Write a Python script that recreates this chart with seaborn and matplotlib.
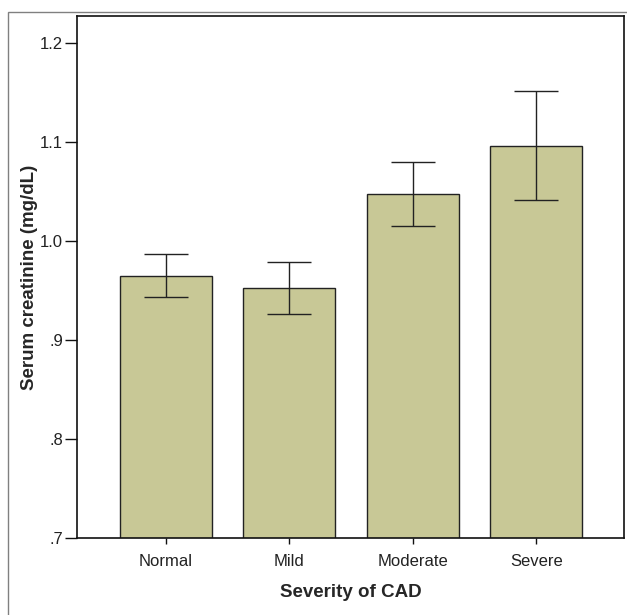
import matplotlib
matplotlib.use("Agg")
import matplotlib.pyplot as plt
import seaborn as sns
import pandas as pd
import numpy as np
from matplotlib.patches import Rectangle

# values (means with 95% CI bounds)
severity = ["Normal", "Mild", "Moderate", "Severe"]
mean_creat = [0.965, 0.953, 1.047, 1.096]
ci_low = [0.943, 0.926, 1.015, 1.041]
ci_high = [0.987, 0.979, 1.080, 1.152]
ytick_vals = [0.7, 0.8, 0.9, 1.0, 1.1, 1.2]
ytick_labels = [".7", ".8", ".9", "1.0", "1.1", "1.2"]

df = pd.DataFrame({"severity": severity, "creat": mean_creat})

sns.set_style("white")
plt.rcParams["font.family"] = ["Liberation Sans", "DejaVu Sans"]

fig = plt.figure(figsize=(6.27, 6.15), dpi=100)
ax = fig.add_axes([0.1228, 0.1252, 0.8724, 0.8488])

# outer chart frame (SPSS style)
fig.patches.append(Rectangle((8 / 627, -0.1), 1.2, 1 - 12 / 615 + 0.1,
                             transform=fig.transFigure, fill=False,
                             edgecolor="#808080", linewidth=1.0))

sns.barplot(data=df, x="severity", y="creat", color="#c8c896", saturation=1,
            width=0.745, edgecolor="#222222", linewidth=1.0, errorbar=None, ax=ax)

x = np.arange(len(severity))
means = np.array(mean_creat)
yerr = [means - np.array(ci_low), np.array(ci_high) - means]
ax.errorbar(x, means, yerr=yerr, fmt="none", ecolor="#222222",
            elinewidth=1.0, capsize=15.5, capthick=1.0, zorder=5)

ax.set_ylim(0.7, 1.2273)
ax.set_xlim(-0.72, 3.71)
ax.set_yticks(ytick_vals)
ax.set_yticklabels(ytick_labels)

for side in ["left", "bottom", "top", "right"]:
    ax.spines[side].set_visible(True)
    ax.spines[side].set_color("#111111")
    ax.spines[side].set_linewidth(1.2)

ax.tick_params(axis="x", direction="out", length=4.3, width=1.0, color="#111111",
               labelsize=12, labelcolor="#222222", pad=7, bottom=True)
ax.tick_params(axis="y", direction="out", length=8.6, width=1.0, color="#111111",
               labelsize=12, labelcolor="#222222", pad=1.5, left=True)

ax.set_xlabel("Severity of CAD", fontsize=13.5, fontweight="bold")
ax.set_ylabel("Serum creatinine (mg/dL)", fontsize=13.5, fontweight="bold")
ax.xaxis.set_label_coords(0.5, -0.088)
ax.yaxis.set_label_coords(-0.071, 0.5)

plt.savefig("out.png", dpi=100)
plt.close()
